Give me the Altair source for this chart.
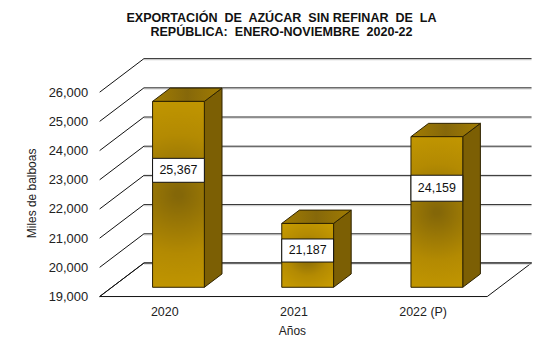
import altair as alt
import pandas as pd

categories = ["2020", "2021", "2022 (P)"]
values = [25367, 21187, 24159]
value_labels = ["25,367", "21,187", "24,159"]
label_centres = [23324, 20577, 22710]
label_heights = [820, 790, 890]
tick_values = [19000, 20000, 21000, 22000, 23000, 24000, 25000, 26000]
title_lines = [
    "EXPORTACIÓN\u00a0 DE\u00a0 AZÚCAR\u00a0 SIN REFINAR\u00a0 DE\u00a0 LA",
    "REPÚBLICA:\u00a0 ENERO-NOVIEMBRE\u00a0 2020-22",
]

FONT = "Liberation Sans"
BASE = 19000
WALL_DX, WALL_DY = 0.343, 1150       # depth of the floor
FRONT_DX, FRONT_DY = 0.11, 317       # bar front plane inside the floor
BAR_DX, BAR_DY = 0.1365, 457         # depth of a bar
BAR_W = 0.401
N = len(categories)
XDOM = [0, 433 / 129.67]
YDOM = [BASE, BASE + 239 / 0.0293]

x_expr = " : ".join(f"datum.value == {i + 0.5} ? '{c}'" for i, c in enumerate(categories)) + " : ''"
X_AXIS = alt.Axis(values=[i + 0.5 for i in range(N)], labelExpr=x_expr, title="Años",
                  domain=False, ticks=False, grid=False, labelFont=FONT, labelFontSize=12.5,
                  labelColor="#222222", labelPadding=9, labelAngle=0, titleFont=FONT, titleFontSize=12,
                  titleFontWeight="normal", titleColor="#222222", titleX=193, titleY=29)
Y_AXIS = alt.Axis(values=tick_values, format=",d", title="Miles de balboas", domain=False, ticks=False,
                  grid=False, labelFont=FONT, labelFontSize=13, labelColor="#222222", labelPadding=12,
                  titleFont=FONT, titleFontSize=12, titleFontWeight="normal", titleColor="#222222",
                  titleX=-61, titleY=135)

def X(f="x", **k):
    return alt.X(f"{f}:Q", scale=alt.Scale(domain=XDOM, nice=False, zero=False), axis=X_AXIS, **k)

def Y(f="y", **k):
    return alt.Y(f"{f}:Q", scale=alt.Scale(domain=YDOM, nice=False, zero=False), axis=Y_AXIS, **k)

X2 = lambda: alt.X2("x2:Q")
Y2 = lambda: alt.Y2("y2:Q")

# walls and floor
floor_df = pd.DataFrame({
    "k": ["a", "a"], "y": [BASE, BASE + WALL_DY],
    "x": [0, WALL_DX], "x2": [N, N + WALL_DX]})
floor = alt.Chart(floor_df).mark_area(orient="horizontal", color="white", stroke="#111111", strokeWidth=1).encode(
    x=X(), x2=X2(), y=Y(), detail="k:N")

back_df = pd.DataFrame({
    "x": [WALL_DX] * len(tick_values), "x2": [N + WALL_DX] * len(tick_values),
    "y": [t + WALL_DY for t in tick_values]})
back_shadow_df = back_df.assign(y=back_df["y"] - 40)
back_shadow = alt.Chart(back_shadow_df).mark_rule(color="#d0d0d0", strokeWidth=1).encode(x=X(), x2=X2(), y=Y())
back = alt.Chart(back_df).mark_rule(color="#2a2a2a", strokeWidth=1).encode(x=X(), x2=X2(), y=Y())

side_df = pd.DataFrame({
    "x": [0] * len(tick_values), "x2": [WALL_DX] * len(tick_values),
    "y": tick_values, "y2": [t + WALL_DY for t in tick_values]})
side = alt.Chart(side_df).mark_rule(color="#111111", strokeWidth=1).encode(x=X(), x2=X2(), y=Y(), y2=Y2())

# bars
rows_face, rows_top, rows_side, rows_box = [], [], [], []
for i, (c, v, lab, lc, lh) in enumerate(zip(categories, values, value_labels, label_centres, label_heights)):
    x0 = i + 0.5 + FRONT_DX - BAR_W / 2
    x1 = x0 + BAR_W
    b = BASE + FRONT_DY
    t = v + FRONT_DY
    rows_face.append(dict(c=c, x=x0, x2=x1, y=b, y2=t))
    rows_top += [dict(c=c, y=t, x=x0, x2=x1), dict(c=c, y=t + BAR_DY, x=x0 + BAR_DX, x2=x1 + BAR_DX)]
    rows_side += [dict(c=c, x=x1, y=t, y2=b), dict(c=c, x=x1 + BAR_DX, y=t + BAR_DY, y2=b + BAR_DY)]
    rows_box.append(dict(c=c, x=x0, x2=x1, y=lc - lh / 2, y2=lc + lh / 2, ym=lc, xm=(x0 + x1) / 2, lab=lab))

EDGE = "#2e2300"
face_grad = {"gradient": "radial", "x1": 0.5, "y1": 0.5, "r1": 0.02, "x2": 0.5, "y2": 0.5, "r2": 0.62,
             "stops": [{"offset": 0, "color": "#846708"}, {"offset": 0.5, "color": "#b38a02"},
                       {"offset": 1, "color": "#c89c00"}]}
top_grad = {"gradient": "linear", "x1": 0, "y1": 0.5, "x2": 1, "y2": 0.5,
            "stops": [{"offset": 0, "color": "#a17c02"}, {"offset": 0.5, "color": "#86680a"},
                      {"offset": 1, "color": "#a17c02"}]}

faces = alt.Chart(pd.DataFrame(rows_face)).mark_rect(color=face_grad, stroke=EDGE, strokeWidth=1).encode(
    x=X(), x2=X2(), y=Y(), y2=Y2())
tops = alt.Chart(pd.DataFrame(rows_top)).mark_area(orient="horizontal", color=top_grad, stroke=EDGE, strokeWidth=1).encode(
    x=X(), x2=X2(), y=Y(), detail="c:N")
sides = alt.Chart(pd.DataFrame(rows_side)).mark_area(color="#7c5f04", stroke=EDGE, strokeWidth=1).encode(
    x=X(), y=Y(), y2=Y2(), detail="c:N")

box_df = pd.DataFrame(rows_box)
boxes = alt.Chart(box_df).mark_rect(color="white", stroke="#111111", strokeWidth=1).encode(
    x=X(), x2=X2(), y=Y(), y2=Y2())
box_text = alt.Chart(box_df).mark_text(font=FONT, fontSize=12.5, color="#111111").encode(
    x=X("xm"), y=Y("ym"), text="lab:N")

chart = alt.layer(floor, back_shadow, back, side, sides, tops, faces, boxes, box_text).properties(
    width=433, height=239,
    title=alt.TitleParams(text=title_lines, font=FONT, fontSize=12.6, fontWeight="bold", color="#111111",
                          anchor="middle", frame="group", dx=-34, offset=20, lineHeight=14),
    background="white",
    padding={"left": 92, "top": 50, "right": 20, "bottom": 40},
    autosize=alt.AutoSizeParams(type="none"),
).configure_view(stroke=None)

chart.save("out.html", embed_options={"renderer": "svg", "actions": False})
